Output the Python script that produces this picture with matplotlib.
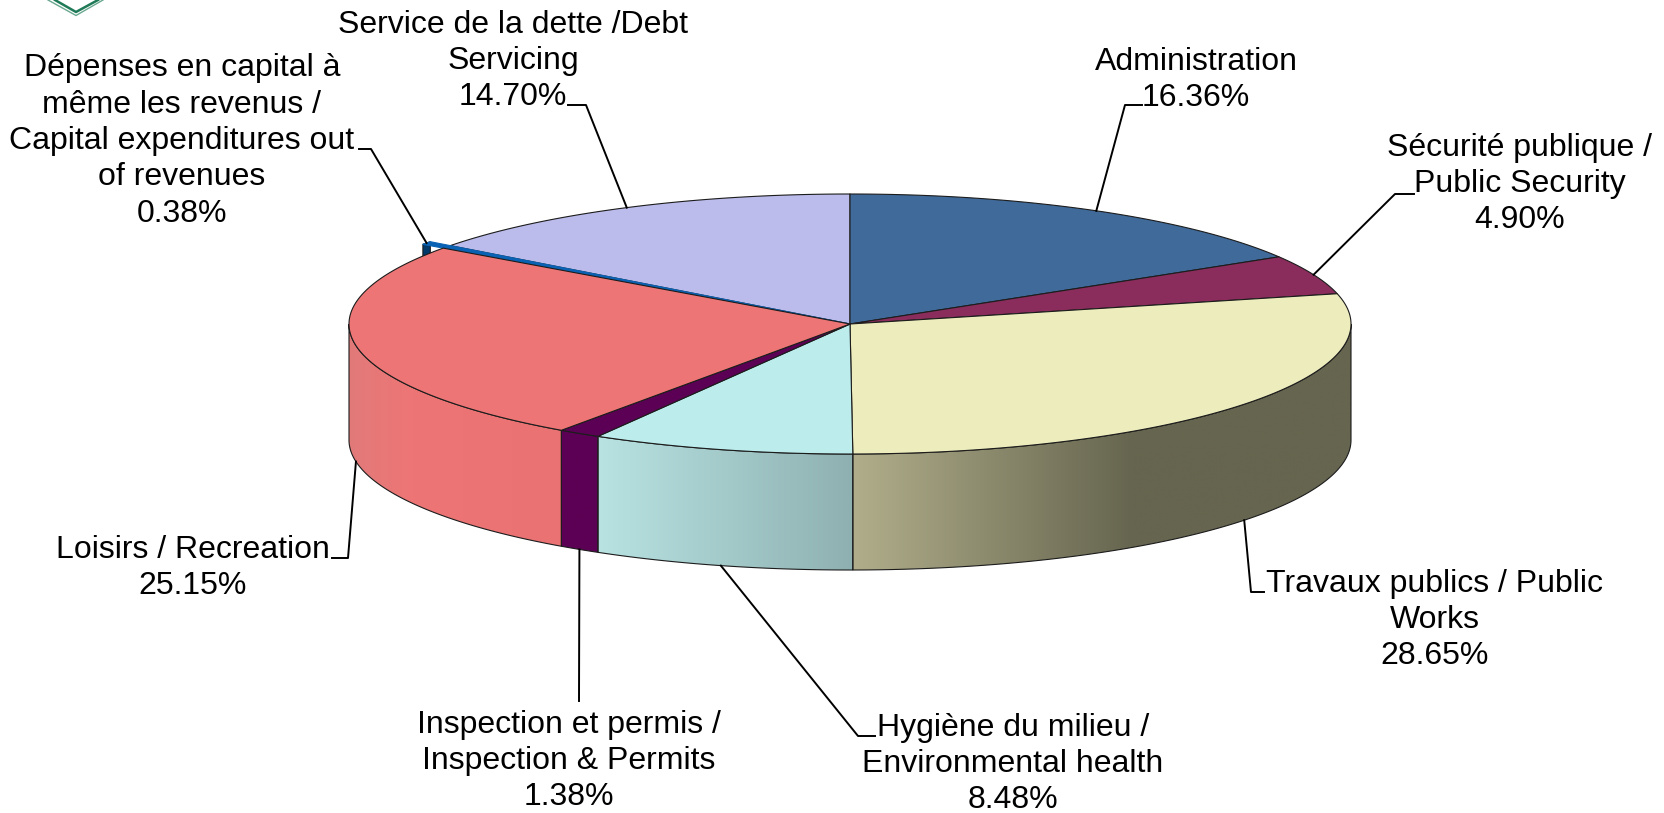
import numpy as np
import matplotlib.pyplot as plt
from matplotlib.colors import LinearSegmentedColormap
from matplotlib.patches import Polygon

plt.rcParams['font.family'] = ['Liberation Sans', 'DejaVu Sans']

# values, clockwise from 12 o'clock
labels = ['Administration',
          'Sécurité publique /\nPublic Security',
          'Travaux publics / Public\nWorks',
          'Hygiène du milieu /\nEnvironmental health',
          'Inspection et permis /\nInspection & Permits',
          'Loisirs / Recreation',
          'Dépenses en capital à\nmême les revenus /\nCapital expenditures out\nof revenues',
          'Service de la dette /Debt\nServicing']
shares = [16.36, 4.90, 28.65, 8.48, 1.38, 25.15, 0.38, 14.70]

top_colors = ['#3f6a9a', '#8a2d5c', '#edecbd', '#bcecec',
              '#5c0055', '#ee7575', '#0a62b4', '#bbbceb']
# side wall gradients (left colour, right colour), None = wall not visible
side_colors = [None, None, ['#b0ae8a', '#66654f', '#66654f'], ['#b8e3e2', '#8fb0b1'],
               ['#5c0055', '#5c0055'], ['#e27a7a', '#ee7575', '#ea7272'],
               ['#003a6c', '#003a6c'], None]
side_stops = [None, None, [0, 0.56, 1], None, None, [0, 0.3, 1], None, None]

# layout, in pixels of the 1665x813 picture
cx, cy = 850, 324
rx, ry = 501, 130
depth = 116
radius_scale = [1, 1, 1, 1, 1, 1, 1.05, 1]
wall_depth = [0, 0, depth, depth, depth, depth, 14, 0]
edge_colors = ['#1c1c1c'] * 6 + ['#0a62b4', '#1c1c1c']
label_pos = [(1196, 80), (1520, 184), (1435, 620), (1013, 764),
             (569, 761), (193, 568), (182, 141), (513, 61)]
# leader line points running from the label to the pie
elbows = [[(1142, 105), (1125, 105)],
          [(1414, 194), (1395, 194)],
          [(1264, 592), (1251, 592)],
          [(875, 736), (858, 736)],
          [(579, 701)],
          [(332, 558), (348, 558)],
          [(359, 149), (371, 149)],
          [(568, 105), (586, 105)]]

logo_outer = [(48, 0), (76, 15.5), (103, 0)]
logo_inner = [(55, 0), (76, 12), (98, 0)]


def ellipse_points(start, end, scale=1.0):
    t = np.radians(np.linspace(start, end, max(int(abs(end - start) * 4), 2)))
    return cx + scale * rx * np.sin(t), cy - scale * ry * np.cos(t)


fig = plt.figure(figsize=(16.65, 8.13), dpi=100)
ax = fig.add_axes([0, 0, 1, 1])

edges = np.concatenate([[0], np.cumsum(shares)]) / np.sum(shares) * 360

# walls first, then the top faces
for i in range(len(shares)):
    if side_colors[i] is None:
        continue
    start, end = edges[i], edges[i + 1]
    if wall_depth[i] == depth:
        # only the front half of the rim shows
        start, end = max(start, 90), min(end, 270)
    x, y = ellipse_points(start, end, radius_scale[i])
    wall = np.column_stack([np.r_[x, x[::-1]], np.r_[y, y[::-1] + wall_depth[i]]])
    poly = Polygon(wall, closed=True, facecolor='none', edgecolor='#1c1c1c', lw=0.8, zorder=3)
    ax.add_patch(poly)
    if side_stops[i] is None:
        cmap = LinearSegmentedColormap.from_list('wall', side_colors[i])
    else:
        cmap = LinearSegmentedColormap.from_list('wall', list(zip(side_stops[i], side_colors[i])))
    grad = np.linspace(0, 1, 256).reshape(1, -1)
    im = ax.imshow(grad, cmap=cmap, extent=[x.min(), x.max(), wall[:, 1].max(), wall[:, 1].min()],
                   aspect='auto', zorder=2)
    im.set_clip_path(poly)

for i in [7, 6, 0, 1, 2, 3, 4, 5]:
    x, y = ellipse_points(edges[i], edges[i + 1], radius_scale[i])
    top = np.column_stack([np.r_[cx, x], np.r_[cy, y]])
    ax.add_patch(Polygon(top, closed=True, facecolor=top_colors[i], edgecolor=edge_colors[i],
                         lw=0.8, joinstyle='round', zorder=4))

# labels and leader lines
mids = (edges[:-1] + edges[1:]) / 2
for i in range(len(shares)):
    text = labels[i] + '\n%.2f%%' % shares[i]
    ax.text(label_pos[i][0], label_pos[i][1], text, ha='center', va='center',
            fontsize=23, linespacing=1.278, color='black', zorder=6)
    ax_x = cx + radius_scale[i] * rx * np.sin(np.radians(mids[i]))
    ax_y = cy - radius_scale[i] * ry * np.cos(np.radians(mids[i]))
    if np.cos(np.radians(mids[i])) < 0:
        ax_y += depth
    pts = elbows[i] + [(ax_x, ax_y)]
    ax.plot([p[0] for p in pts], [p[1] for p in pts], color='black', lw=1.4, zorder=5)

# bottom of the logo, cut off by the picture edge
ax.plot([p[0] for p in logo_outer], [p[1] for p in logo_outer], color='#6aa890', lw=1.0)
ax.plot([p[0] for p in logo_inner], [p[1] for p in logo_inner], color='#1f7a58', lw=1.8)

ax.set_xlim(0, 1665)
ax.set_ylim(813, 0)
ax.axis('off')
fig.savefig('out.png', dpi=100, facecolor='white')
